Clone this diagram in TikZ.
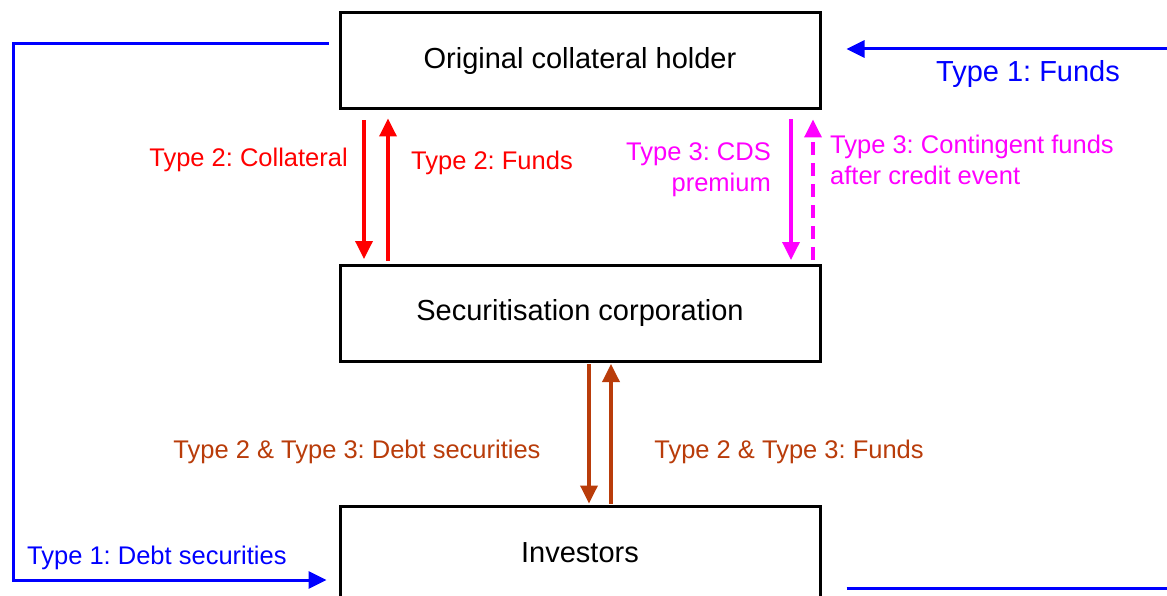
\documentclass[tikz,border=0pt]{standalone}
\usepackage{fontspec}
\setmainfont{Liberation Sans}
\usetikzlibrary{arrows.meta}
\definecolor{cblue}{RGB}{0,0,255}
\definecolor{cred}{RGB}{255,0,0}
\definecolor{cmag}{RGB}{255,0,255}
\definecolor{cbrown}{RGB}{185,60,10}
\frenchspacing
\begin{document}
\begin{tikzpicture}[x=1pt,y=-1pt,
  box/.style={draw=black,line width=3pt,minimum width=480pt,minimum height=96pt,inner sep=0pt,font=\fontsize{29}{31}\selectfont},
  lab/.style={font=\fontsize{25.5}{31}\selectfont,inner sep=0pt},
  biglab/.style={font=\fontsize{29}{31}\selectfont,inner sep=0pt},
  tip/.style={-{Triangle[length=18pt,width=17pt]}},
  flow/.style={line width=3.5pt,tip},
  bflow/.style={line width=3pt,cblue},
]
\useasboundingbox (0,0) rectangle (1167,596);
\clip (0,0) rectangle (1167,596);
\fill[white] (0,0) rectangle (1167,596);

\node[box] (b1) at (580,61) {\raisebox{3pt}{Original collateral holder}};
\node[box] (b2) at (580,313.5) {\raisebox{2pt}{Securitisation corporation}};
\node[box] (b3) at (580,554) {\raisebox{3pt}{Investors}};

\coordinate (tr) at (1167,49);
\coordinate (br) at (1167,588);
\coordinate (lc1) at (13,44);
\coordinate (lc2) at (13,580);

% Type 1 blue lines
\draw[bflow,line join=miter] ([xshift=-10pt,yshift=17pt]b1.west) -- (lc1) -- (lc2)
  -- ([xshift=-20pt,yshift=-26pt]b3.west);
\draw[bflow,tip] ([xshift=-40pt,yshift=-26pt]b3.west) -- ([xshift=-12pt,yshift=-26pt]b3.west);
\draw[bflow,tip] (tr) -- ([xshift=25pt,yshift=12pt]b1.east);
\draw[bflow] ([xshift=25pt,yshift=-34pt]b3.east) -- (br);

% Type 2 red arrows
\draw[flow,cred,shorten <=10pt,shorten >=5pt] ([xshift=-216pt]b1.south) -- ([xshift=-216pt]b2.north);
\draw[flow,cred,shorten <=3pt,shorten >=8pt] ([xshift=-192pt]b2.north) -- ([xshift=-192pt]b1.south);

% Type 3 magenta arrows
\draw[flow,cmag,shorten <=9pt,shorten >=4pt] ([xshift=211pt]b1.south) -- ([xshift=211pt]b2.north);
\draw[flow,cmag,dash pattern=on 13pt off 8pt,shorten <=4pt,shorten >=9pt] ([xshift=233pt]b2.north) -- ([xshift=233pt]b1.south);

% Brown arrows
\draw[flow,cbrown,shorten <=1pt,shorten >=1pt] ([xshift=9pt]b2.south) -- ([xshift=9pt]b3.north);
\draw[flow,cbrown,shorten <=1pt,shorten >=1pt] ([xshift=31pt]b3.north) -- ([xshift=31pt]b2.south);

% Labels
\node[biglab,text=cblue] (l1) at (1028,74) {Type 1: Funds};
\node[lab,text=cblue,anchor=west] (l2) at (27,558) {Type 1: Debt securities};
\node[lab,text=cred,anchor=east] (l3) at (348,160) {Type 2: Collateral};
\node[lab,text=cred,anchor=west] (l4) at (411,163) {Type 2: Funds};
\node[lab,text=cmag,anchor=east,align=right] (l5) at (771,170) {Type 3: CDS\\premium};
\node[lab,text=cmag,anchor=west,align=left] (l6) at (830,160) {Type 3: Contingent funds\\after credit event};
\node[lab,text=cbrown] (l7) at (357,452) {Type 2 \& Type 3: Debt securities};
\node[lab,text=cbrown] (l8) at (789,452) {Type 2 \& Type 3: Funds};
\end{tikzpicture}
\end{document}
